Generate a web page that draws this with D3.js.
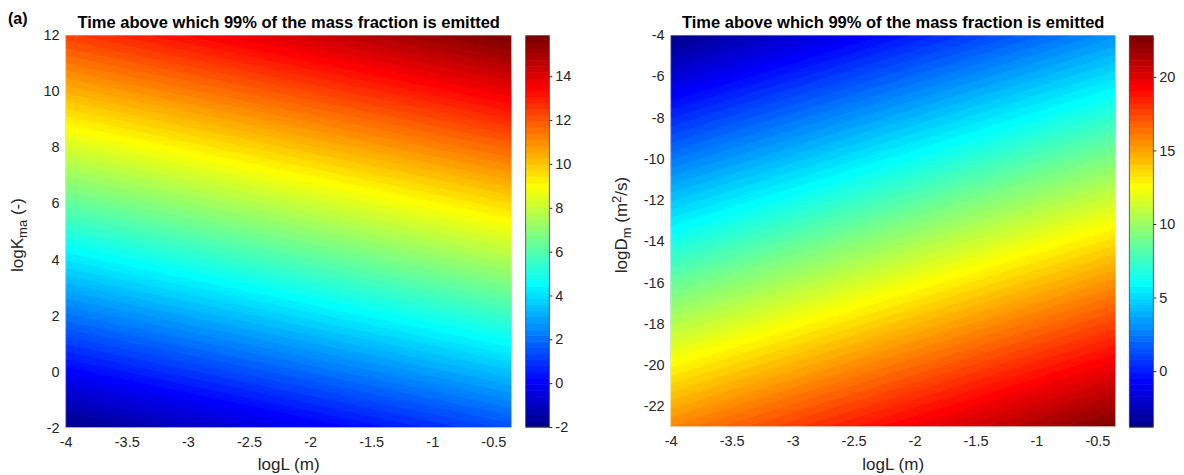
<!DOCTYPE html>
<html><head><meta charset="utf-8">
<script src="https://cdn.jsdelivr.net/npm/d3@7"></script>
<style>
body{margin:0;background:#fff}
text{font-family:"Liberation Sans",Arial,Helvetica,sans-serif}
</style>
</head><body>
<svg id="c" width="1184" height="475"></svg>
<script>
// ---------------- data ----------------
const titleText = "Time above which 99% of the mass fraction is emitted";
const panelLabel = "(a)";

// Panel 1: logL (x) vs logKma (y); values read from the colour field
const p1GridL = [-5, -4, -3, -2, -1, 0];
const p1GridK = [-4, -2, 0, 2, 4, 6, 8, 10, 12, 14];
const p1Values = [
  -5.02, -4.07, -3.12, -2.17, -1.22, -0.27,
  -2.96, -2.01, -1.06, -0.11,  0.84,  1.79,
  -0.90,  0.05,  1.00,  1.95,  2.90,  3.85,
   1.16,  2.11,  3.06,  4.01,  4.96,  5.91,
   3.22,  4.17,  5.12,  6.07,  7.02,  7.97,
   5.28,  6.23,  7.18,  8.13,  9.08, 10.03,
   7.34,  8.29,  9.24, 10.19, 11.14, 12.09,
   9.40, 10.35, 11.30, 12.25, 13.20, 14.15,
  11.46, 12.41, 13.36, 14.31, 15.26, 16.21,
  13.52, 14.47, 15.42, 16.37, 17.32, 18.27
];
const p1XDomain = [-4, -0.35];
const p1YDomain = [-2, 12];
const p1CbarDomain = [-2, 15.85];
const p1XTicks = [-4, -3.5, -3, -2.5, -2, -1.5, -1, -0.5];
const p1YTicks = [-2, 0, 2, 4, 6, 8, 10, 12];
const p1CbarTicks = [-2, 0, 2, 4, 6, 8, 10, 12, 14];

// Panel 2: logL (x) vs logDm (y)
const p2GridL = [-5, -4, -3, -2, -1, 0];
const p2GridD = [-25, -23, -21, -19, -17, -15, -13, -11, -9, -7, -5, -3];
const p2Values = [
  15.93, 17.83, 19.73, 21.63, 23.53, 25.43,
  13.87, 15.77, 17.67, 19.57, 21.47, 23.37,
  11.81, 13.71, 15.61, 17.51, 19.41, 21.31,
   9.75, 11.65, 13.55, 15.45, 17.35, 19.25,
   7.69,  9.59, 11.49, 13.39, 15.29, 17.19,
   5.63,  7.53,  9.43, 11.33, 13.23, 15.13,
   3.57,  5.47,  7.37,  9.27, 11.17, 13.07,
   1.51,  3.41,  5.31,  7.21,  9.11, 11.01,
  -0.55,  1.35,  3.25,  5.15,  7.05,  8.95,
  -2.61, -0.71,  1.19,  3.09,  4.99,  6.89,
  -4.67, -2.77, -0.87,  1.03,  2.93,  4.83,
  -6.73, -4.83, -2.93, -1.03,  0.87,  2.77
];
const p2XDomain = [-4, -0.35];
const p2YDomain = [-23, -4];
const p2CbarDomain = [-3.8, 22.8];
const p2XTicks = [-4, -3.5, -3, -2.5, -2, -1.5, -1, -0.5];
const p2YTicks = [-22, -20, -18, -16, -14, -12, -10, -8, -6, -4];
const p2CbarTicks = [0, 5, 10, 15, 20];

// ---------------- helpers ----------------
function jetMap(m) {
  const n = Math.ceil(m / 4);
  const u = [...d3.range(1, n + 1).map(i => i / n), ...Array(n - 1).fill(1), ...d3.range(n, 0, -1).map(i => i / n)];
  const off = Math.ceil(n / 2) - (m % 4 === 1 ? 1 : 0);
  const cols = Array.from({length: m}, () => [0, 0, 0]);
  u.forEach((uv, k) => {
    const g = off + k + 1, r = g + n, b = g - n;
    if (r >= 1 && r <= m) cols[r - 1][0] = uv;
    if (g >= 1 && g <= m) cols[g - 1][1] = uv;
    if (b >= 1 && b <= m) cols[b - 1][2] = uv;
  });
  return cols.map(c => d3.rgb(c[0] * 255, c[1] * 255, c[2] * 255).formatHex());
}
const NCOL = 64;
const jet = jetMap(NCOL);
const svg = d3.select("#c");
const TXT = "#262626";
const defs = svg.append("defs");
const fmt = d => String(d);

function drawPanel(cfg) {
  const x = d3.scaleLinear().domain(cfg.xDomain).range([cfg.x0, cfg.x1]);
  const y = d3.scaleLinear().domain(cfg.yDomain).range([cfg.y1, cfg.y0]);
  const [cmin, cmax] = cfg.cbar;
  const step = (cmax - cmin) / NCOL;
  const colorOf = v => jet[Math.max(0, Math.min(NCOL - 1, Math.floor((v - cmin) / step + 1e-9)))];

  const n = cfg.gx.length, m = cfg.gy.length;
  const dgx = cfg.gx[1] - cfg.gx[0], dgy = cfg.gy[1] - cfg.gy[0];
  const vmin = d3.min(cfg.values), vmax = d3.max(cfg.values);
  const thr = d3.range(Math.floor((vmin - cmin) / step), Math.ceil((vmax - cmin) / step) + 1).map(k => cmin + k * step);
  const contours = d3.contours().size([n, m]).thresholds(thr)(cfg.values);
  const proj = d3.geoTransform({
    point(px, py) { this.stream.point(x(cfg.gx[0] + (px - 0.5) * dgx), y(cfg.gy[0] + (py - 0.5) * dgy)); }
  });
  const path = d3.geoPath(proj);

  defs.append("clipPath").attr("id", cfg.id + "clip").append("rect")
    .attr("x", cfg.x0).attr("y", cfg.y0).attr("width", cfg.x1 - cfg.x0).attr("height", cfg.y1 - cfg.y0);

  svg.append("g").attr("clip-path", `url(#${cfg.id}clip)`)
    .selectAll("path").data(contours).join("path")
    .attr("d", path)
    .attr("fill", d => colorOf(d.value + step / 2))
    .attr("stroke", d => colorOf(d.value + step / 2))
    .attr("stroke-width", 0.4);

  svg.append("rect").attr("x", cfg.x0).attr("y", cfg.y0)
    .attr("width", cfg.x1 - cfg.x0).attr("height", cfg.y1 - cfg.y0)
    .attr("fill", "none").attr("stroke", "#e6e6e6").attr("stroke-width", 0.8);

  // axes
  const ax = svg.append("g").attr("transform", `translate(0,${cfg.y1})`)
    .call(d3.axisBottom(x).tickValues(cfg.xTicks).tickSize(0).tickPadding(9).tickFormat(fmt));
  const ay = svg.append("g").attr("transform", `translate(${cfg.x0},0)`)
    .call(d3.axisLeft(y).tickValues(cfg.yTicks).tickSize(0).tickPadding(6).tickFormat(fmt));
  [ax, ay].forEach(a => {
    a.select(".domain").remove();
    a.selectAll("text").attr("fill", TXT).style("font-size", "14.5px").style("font-family", '"Liberation Sans",Arial,sans-serif');
  });
  ax.selectAll("text").attr("dy", "0.71em");

  // title
  svg.append("text").attr("x", (cfg.x0 + cfg.x1) / 2).attr("y", 28)
    .attr("text-anchor", "middle").attr("font-weight", "bold").attr("font-size", "16.5px")
    .attr("fill", "#000").text(titleText);

  // x label
  svg.append("text").attr("x", (cfg.x0 + cfg.x1) / 2).attr("y", 470)
    .attr("text-anchor", "middle").attr("font-size", "17px").attr("fill", TXT)
    .text("logL  (m)");

  // y label
  const yl = svg.append("text").attr("transform", `translate(${cfg.ylabX},${cfg.ylabY}) rotate(-90)`)
    .attr("text-anchor", "middle").attr("font-size", "17px").attr("fill", TXT);
  cfg.ylabel(yl);

  // colorbar
  const cy = d3.scaleLinear().domain(cfg.cbar).range([cfg.cby1, cfg.cby0]);
  svg.append("g").selectAll("rect").data(d3.range(NCOL)).join("rect")
    .attr("x", cfg.cbx0).attr("width", cfg.cbx1 - cfg.cbx0)
    .attr("y", i => cy(cmin + (i + 1) * step))
    .attr("height", i => cy(cmin + i * step) - cy(cmin + (i + 1) * step) + 0.5)
    .attr("fill", i => jet[i]);
  svg.append("rect").attr("x", cfg.cbx0).attr("y", cfg.cby0)
    .attr("width", cfg.cbx1 - cfg.cbx0).attr("height", cfg.cby1 - cfg.cby0)
    .attr("fill", "none").attr("stroke", "#404040").attr("stroke-width", 0.8);
  const ac = svg.append("g").attr("transform", `translate(${cfg.cbx1},0)`)
    .call(d3.axisRight(cy).tickValues(cfg.cbTicks).tickSize(3).tickPadding(3).tickFormat(fmt));
  ac.select(".domain").remove();
  ac.selectAll("line").attr("stroke", TXT);
  ac.selectAll("text").attr("fill", TXT).style("font-size", "14.5px").style("font-family", '"Liberation Sans",Arial,sans-serif');
}

drawPanel({
  id: "p1", gx: p1GridL, gy: p1GridK, values: p1Values,
  xDomain: p1XDomain, yDomain: p1YDomain, cbar: p1CbarDomain,
  xTicks: p1XTicks, yTicks: p1YTicks, cbTicks: p1CbarTicks,
  x0: 65.7, x1: 511.7, y0: 35, y1: 427.7,
  cbx0: 525.7, cbx1: 549.3, cby0: 35.7, cby1: 427,
  ylabX: 23, ylabY: 235,
  ylabel: t => {
    t.append("tspan").text("logK");
    t.append("tspan").attr("dy", 4).attr("font-size", "13px").text("ma");
    t.append("tspan").attr("dy", -4).text("  (-)");
  }
});

drawPanel({
  id: "p2", gx: p2GridL, gy: p2GridD, values: p2Values,
  xDomain: p2XDomain, yDomain: p2YDomain, cbar: p2CbarDomain,
  xTicks: p2XTicks, yTicks: p2YTicks, cbTicks: p2CbarTicks,
  x0: 670.7, x1: 1115.7, y0: 35, y1: 426.7,
  cbx0: 1129.3, cbx1: 1153.3, cby0: 35.7, cby1: 427,
  ylabX: 627, ylabY: 225,
  ylabel: t => {
    t.append("tspan").text("logD");
    t.append("tspan").attr("dy", 4).attr("font-size", "13px").text("m");
    t.append("tspan").attr("dy", -4).text("  (m");
    t.append("tspan").attr("dy", -6).attr("font-size", "13px").text("2");
    t.append("tspan").attr("dy", 6).text("/s)");
  }
});

// panel tag
svg.append("text").attr("x", 8).attr("y", 24).attr("font-weight", "bold")
  .attr("font-size", "16px").attr("fill", "#000").text(panelLabel);

// partly hidden colourbar label fragments (clipped by neighbouring axes)
defs.append("clipPath").attr("id", "frag1").append("rect").attr("x", 578).attr("y", 150).attr("width", 9).attr("height", 170);
svg.append("text").attr("clip-path", "url(#frag1)")
  .attr("transform", "translate(587,232) rotate(-90)").attr("text-anchor", "middle")
  .attr("font-size", "16px").attr("fill", "#b0b0b0").text("logT  (-)");
</script>
</body></html>
